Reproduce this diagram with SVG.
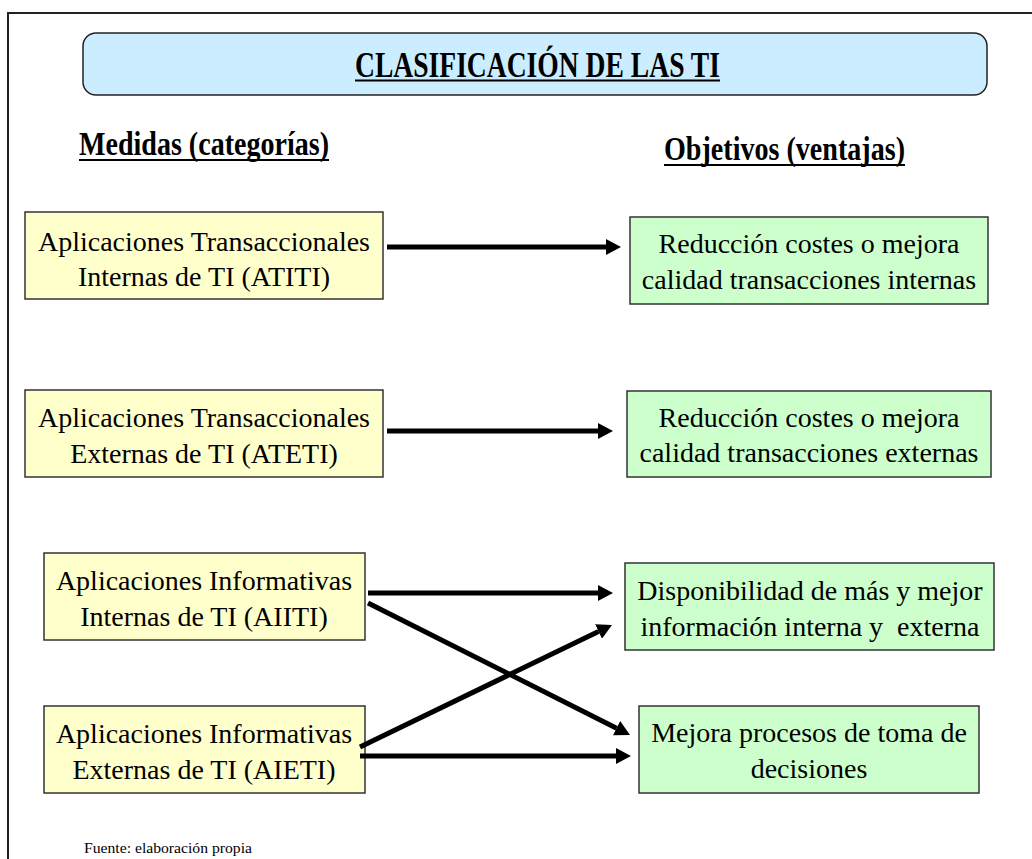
<svg xmlns="http://www.w3.org/2000/svg" width="1032" height="859" viewBox="0 0 1032 859">
  <style>
    .frame { fill: none; stroke: #222; stroke-width: 2; }
    .box { stroke: #333; stroke-width: 1.5; }
    .cat { fill: #FFFFCC; }
    .obj { fill: #CCFFCC; }
    .head { fill: #CCECFF; stroke: #222; stroke-width: 1.5; }
    .t { font-family: "Liberation Serif", "Times New Roman", serif; font-size: 28px; fill: #000; text-anchor: middle; }
    .h { font-family: "Liberation Serif", "Times New Roman", serif; font-weight: bold; fill: #000; }
    .ul { stroke: #000; stroke-width: 2.2; }
    .conn line { stroke: #000; stroke-width: 5; marker-end: url(#arrow); }
    .src { font-family: "Liberation Serif", "Times New Roman", serif; font-size: 15px; fill: #000; }
  </style>
  <defs>
    <marker id="arrow" markerUnits="userSpaceOnUse" markerWidth="15" markerHeight="16" refX="0" refY="8" orient="auto" viewBox="0 0 15 16">
      <path d="M0,0 L15,8 L0,16 z" fill="#000"/>
    </marker>
  </defs>

  <rect width="1032" height="859" fill="#fff"/>
  <!-- page frame (open on right and bottom) -->
  <path class="frame" d="M8,860 L8,13 L1033,13"/>

  <!-- title banner -->
  <g id="title">
    <rect class="head" x="83" y="33" width="904" height="62" rx="13" ry="13"/>
    <text class="h" x="355" y="77" font-size="35" textLength="365" lengthAdjust="spacingAndGlyphs">CLASIFICACIÓN DE LAS TI</text>
    <line class="ul" x1="355" y1="80.5" x2="720" y2="80.5"/>
  </g>

  <!-- column headings -->
  <g id="heading-medidas">
    <text class="h" x="79" y="155" font-size="33" textLength="250" lengthAdjust="spacingAndGlyphs">Medidas (categorías)</text>
    <line class="ul" x1="79" y1="160" x2="329" y2="160"/>
  </g>
  <g id="heading-objetivos">
    <text class="h" x="664" y="160" font-size="33" textLength="241" lengthAdjust="spacingAndGlyphs">Objetivos (ventajas)</text>
    <line class="ul" x1="664" y1="165" x2="905" y2="165"/>
  </g>

  <!-- categories -->
  <g id="atiti">
    <rect class="box cat" x="25" y="212" width="358" height="87"/>
    <text class="t" x="204" y="251">Aplicaciones Transaccionales</text>
    <text class="t" x="204" y="286">Internas de TI (ATITI)</text>
  </g>
  <g id="ateti">
    <rect class="box cat" x="25" y="390" width="358" height="87"/>
    <text class="t" x="204" y="427">Aplicaciones Transaccionales</text>
    <text class="t" x="204" y="463">Externas de TI (ATETI)</text>
  </g>
  <g id="aiiti">
    <rect class="box cat" x="44" y="553" width="321" height="87"/>
    <text class="t" x="204" y="590">Aplicaciones Informativas</text>
    <text class="t" x="204" y="626">Internas de TI (AIITI)</text>
  </g>
  <g id="aieti">
    <rect class="box cat" x="44" y="706" width="321" height="87"/>
    <text class="t" x="204" y="743">Aplicaciones Informativas</text>
    <text class="t" x="204" y="779">Externas de TI (AIETI)</text>
  </g>

  <!-- objectives -->
  <g id="obj-internas">
    <rect class="box obj" x="630" y="217" width="358" height="87"/>
    <text class="t" x="809" y="253">Reducción costes o mejora</text>
    <text class="t" x="809" y="289">calidad transacciones internas</text>
  </g>
  <g id="obj-externas">
    <rect class="box obj" x="627" y="391" width="364" height="86"/>
    <text class="t" x="809" y="427">Reducción costes o mejora</text>
    <text class="t" x="809" y="462">calidad transacciones externas</text>
  </g>
  <g id="obj-informacion">
    <rect class="box obj" x="625" y="563" width="369" height="87"/>
    <text class="t" x="810" y="600">Disponibilidad de más y mejor</text>
    <text class="t" x="810" y="636" xml:space="preserve">información interna y  externa</text>
  </g>
  <g id="obj-decisiones">
    <rect class="box obj" x="639" y="706" width="340" height="87"/>
    <text class="t" x="809" y="742">Mejora procesos de toma de</text>
    <text class="t" x="809" y="778">decisiones</text>
  </g>

  <!-- connectors -->
  <g id="connectors" class="conn">
    <line x1="387" y1="247" x2="606" y2="247"/>
    <line x1="387" y1="431" x2="598" y2="431"/>
    <line x1="368" y1="593" x2="598" y2="593"/>
    <line x1="368" y1="603" x2="616.6" y2="728.2"/>
    <line x1="360" y1="747" x2="598.5" y2="631.5"/>
    <line x1="360" y1="756" x2="616" y2="756"/>
  </g>

  <text class="src" x="84" y="853" textLength="168" lengthAdjust="spacingAndGlyphs">Fuente: elaboración propia</text>
</svg>
